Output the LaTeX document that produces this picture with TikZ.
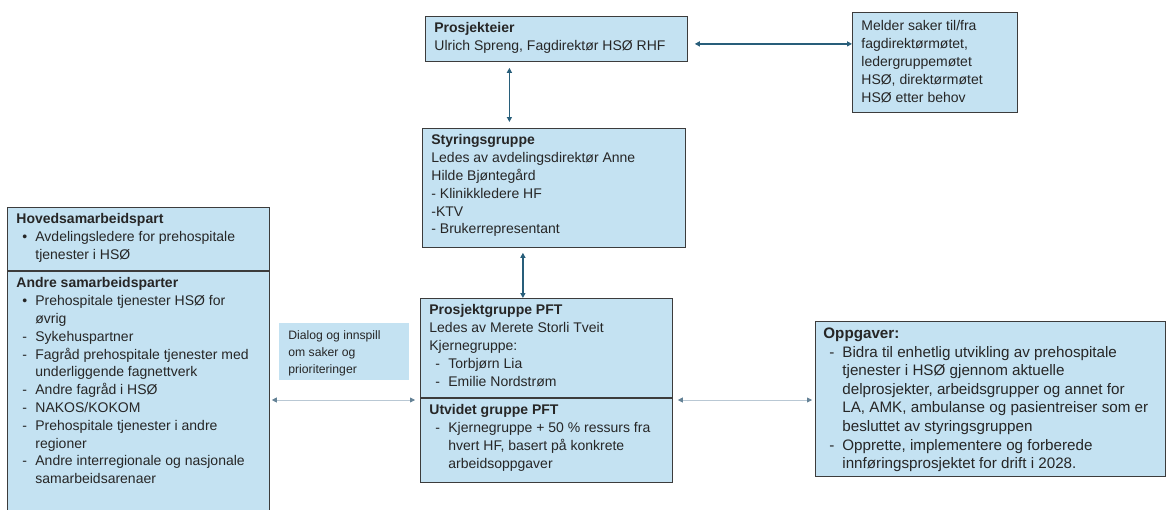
\documentclass[tikz,border=0pt]{standalone}
\usepackage{fontspec}
\setmainfont{Liberation Sans}
\usetikzlibrary{arrows.meta}
\definecolor{boxfill}{RGB}{196,226,242}
\definecolor{boxline}{RGB}{60,60,60}
\definecolor{arrowdark}{RGB}{40,94,122}
\definecolor{arrowlight}{RGB}{185,200,212}
\definecolor{tiplight}{RGB}{100,130,150}
\newcommand{\entry}[2]{\makebox[19pt][l]{\hspace{6pt}#1}#2}
\newcommand{\more}[1]{\hspace*{19pt}#1}
\newcommand{\cell}[3]{\parbox[t][#2][t]{#1}{\raggedright\strut #3}}

\begin{document}
\begin{tikzpicture}[x=1pt, y=-1pt,
	box/.style = {draw=boxline, line width=0.8pt, fill=boxfill, inner xsep=9pt, inner ysep=4pt, anchor=north west, text=black!85, font=\fontsize{14}{17.8}\selectfont},
	note/.style = {box, draw=none, font=\fontsize{12.2}{17}\selectfont},
	link/.style = {arrowdark, line width=1.2pt, {Triangle[length=5pt,width=5pt]}-{Triangle[length=5pt,width=5pt]}},
	soft/.style = {arrowlight, line width=0.8pt, {Triangle[length=5pt,width=5pt,color=tiplight]}-{Triangle[length=5pt,width=5pt,color=tiplight]}}]
	\useasboundingbox (0,0) rectangle (1167,509);

	\node[box] (eier) at (425,16) {\cell{244pt}{37pt}{\textbf{Prosjekteier}\\ Ulrich Spreng, Fagdirektør HSØ RHF}};
	\node[box, inner ysep=6pt] (melder) at (852,12) {\cell{147pt}{88pt}{Melder saker til/fra\\ fagdirektørmøtet,\\ ledergruppemøtet\\ HSØ, direktørmøtet\\ HSØ etter behov}};
	\node[box] (styring) at (422,128) {\cell{245pt}{111pt}{\textbf{Styringsgruppe}\\ Ledes av avdelingsdirektør Anne\\ Hilde Bjøntegård\\ - Klinikkledere HF\\ -KTV\\ - Brukerrepresentant}};

	\node[box] (hoved) at (7,207) {\cell{244pt}{55pt}{\textbf{Hovedsamarbeidspart}\\ \entry{•}{Avdelingsledere for prehospitale}\\ \more{tjenester i HSØ}}};
	\node[box] (andre) at (7,271) {\cell{244pt}{234pt}{\textbf{Andre samarbeidsparter}\\ \entry{•}{Prehospitale tjenester HSØ for}\\ \more{øvrig}\\ \entry{-}{Sykehuspartner}\\ \entry{-}{Fagråd prehospitale tjenester med}\\ \more{underliggende fagnettverk}\\ \entry{-}{Andre fagråd i HSØ}\\ \entry{-}{NAKOS/KOKOM}\\ \entry{-}{Prehospitale tjenester i andre}\\ \more{regioner}\\ \entry{-}{Andre interregionale og nasjonale}\\ \more{samarbeidsarenaer}}};

	\node[note] (dialog) at (279,323) {\cell{112pt}{49pt}{Dialog og innspill\\ om saker og\\ prioriteringer}};

	\node[box] (pft) at (420,298) {\cell{234pt}{91pt}{\textbf{Prosjektgruppe PFT}\\ Ledes av Merete Storli Tveit\\ Kjernegruppe:\\ \entry{-}{Torbjørn Lia}\\ \entry{-}{Emilie Nordstrøm}}};
	\node[box] (utvidet) at (420,398) {\cell{234pt}{76pt}{\textbf{Utvidet gruppe PFT}\\ \entry{-}{Kjernegruppe + 50 \% ressurs fra}\\ \more{hvert HF, basert på konkrete}\\ \more{arbeidsoppgaver}}};

	\node[box, inner xsep=8pt, font=\fontsize{15.2}{18.6}\selectfont] (oppgaver) at (815,321) {\cell{334pt}{147pt}{\textbf{Oppgaver:}\\ \entry{-}{Bidra til enhetlig utvikling av prehospitale}\\ \more{tjenester i HSØ gjennom aktuelle}\\ \more{delprosjekter, arbeidsgrupper og annet  for}\\ \more{LA, AMK, ambulanse og pasientreiser som er}\\ \more{besluttet av styringsgruppen}\\ \entry{-}{Opprette, implementere og forberede}\\ \more{innføringsprosjektet for drift i 2028.}}};

	\path (eier.east) ++(7,5) coordinate (e1);
	\draw[link] (e1) -- (e1 -| melder.west);
	\path (eier.south) ++(-47,6) coordinate (e2);
	\draw[link, shorten >=6pt] (e2) -- (e2 |- styring.north);
	\path (styring.south) ++(-31,5) coordinate (e3);
	\draw[link] (e3) -- (e3 |- pft.north);
	\path (utvidet.north west) ++(-5,2) coordinate (m1);
	\draw[soft, shorten <=2pt] (andre.east |- m1) -- (m1);
	\path (utvidet.north east) ++(5,2) coordinate (m2);
	\draw[soft, shorten >=3pt] (m2) -- (m2 -| oppgaver.west);
\end{tikzpicture}
\end{document}
